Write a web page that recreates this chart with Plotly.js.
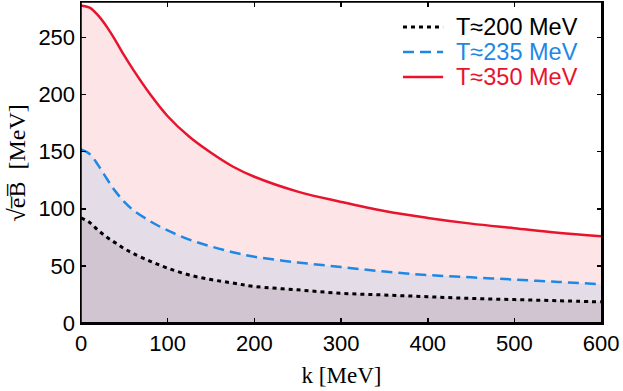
<!DOCTYPE html>
<html><head><meta charset="utf-8">
<script src="https://cdn.plot.ly/plotly-3.0.1.min.js"></script>
<style>
html,body{margin:0;padding:0;background:#fff;overflow:hidden}
#wrap{position:relative;width:623px;height:391px}
#frame{position:absolute;left:80px;top:1px;width:520px;height:320px;border:1.5px solid #000;pointer-events:none}
</style>
</head><body>
<div id="wrap"><div id="chart" style="width:623px;height:391px"></div><div id="frame"></div></div>
<script>
const k = [0, 10, 20, 30, 40, 50, 60, 80, 100, 125, 150, 175, 200, 250, 300, 350, 400, 450, 500, 550, 600];
const red350 = [278, 276, 269, 259, 247, 234, 222, 200, 181, 163, 149, 137, 128, 115, 106, 98, 92, 87, 83, 79, 76];
const blue235 = [152, 148, 138, 126, 115, 106, 99, 89, 81, 73, 67, 62, 58, 53, 49, 45, 42, 40, 38, 36, 34];
const black200 = [92, 88, 81, 75, 70, 65, 61, 54, 48, 42, 38, 35, 32, 29, 26, 24.5, 23, 21.5, 20.5, 19.5, 18.5];
const names = ['T≈200 MeV', 'T≈235 MeV', 'T≈350 MeV'];
const xTicks = [0, 100, 200, 300, 400, 500, 600];
const yTicks = [0, 50, 100, 150, 200, 250];

const cRed = '#e8132d', cBlue = '#1e88e5', cBlack = '#000000';
const series = [
  {y: black200, color: cBlack, width: 3, dash: '4px,4px', fill: '#d0c5d1'},
  {y: blue235, color: cBlue, width: 2.5, dash: '11px,6px', fill: '#e4dce7'},
  {y: red350, color: cRed, width: 2.5, dash: 'solid', fill: '#fce4e7'}
];
const traces = [];
[2, 1, 0].forEach(i => {
  traces.push({x: k, y: series[i].y, mode: 'none', fill: 'tozeroy', fillcolor: series[i].fill,
    line: {shape: 'spline'}, showlegend: false, hoverinfo: 'skip'});
});
[2, 1, 0].forEach(i => {
  traces.push({x: k, y: series[i].y, name: names[i], mode: 'lines', showlegend: false,
    line: {color: series[i].color, width: series[i].width, shape: 'spline', dash: series[i].dash}});
});

const legY = [0.922, 0.844, 0.766];
const shapes = [
  {type: 'rect', xref: 'paper', yref: 'paper', x0: 0, x1: 1, y0: 0, y1: 1,
   line: {color: '#000000', width: 1.5}}
];
const annotations = [];
series.forEach((s, i) => {
  shapes.push({type: 'line', xref: 'paper', yref: 'paper', x0: 0.618, x1: 0.695, y0: legY[i], y1: legY[i],
    line: {color: s.color, width: s.width, dash: s.dash}});
  annotations.push({xref: 'paper', yref: 'paper', x: 0.715, y: legY[i], xanchor: 'left', yanchor: 'middle',
    showarrow: false, text: names[i], font: {family: 'Liberation Sans, Arial, sans-serif', size: 23.5, color: s.color}});
});
annotations.push({xref: 'paper', yref: 'paper', x: -0.123, y: 0.5, xanchor: 'center', yanchor: 'middle',
  showarrow: false, textangle: -90, text: '√e\u0305B\u0305  [MeV]',
  font: {family: 'Liberation Serif, Times New Roman, serif', size: 24, color: '#000'}});

const axisCommon = {
  showline: true, linecolor: '#000', linewidth: 1.5, mirror: 'all',
  ticks: 'inside', ticklen: 5, tickcolor: '#000', tickwidth: 1.5,
  showgrid: false, zeroline: false,
  tickfont: {family: 'Liberation Sans, Arial, sans-serif', size: 22, color: '#000'}
};
const layout = {
  width: 623, height: 391,
  margin: {l: 81, r: 21, t: 2, b: 68},
  paper_bgcolor: '#fff', plot_bgcolor: '#fff',
  showlegend: false,
  shapes: shapes, annotations: annotations,
  xaxis: Object.assign({}, axisCommon, {range: [0, 601], tickvals: xTicks, ticktext: xTicks.map(String),
    title: {text: 'k [MeV]', font: {family: 'Liberation Serif, Times New Roman, serif', size: 23, color: '#000'}, standoff: 12}}),
  yaxis: Object.assign({}, axisCommon, {range: [0, 281], tickvals: yTicks, ticktext: yTicks.map(String)})
};
Plotly.newPlot('chart', traces, layout, {displayModeBar: false, staticPlot: true});
</script>
</body></html>
